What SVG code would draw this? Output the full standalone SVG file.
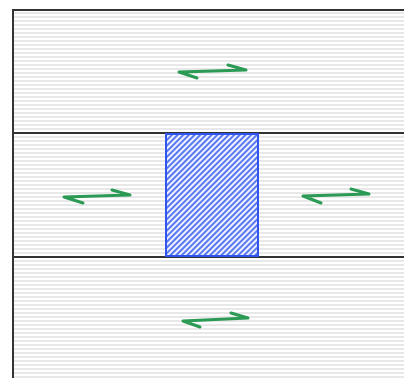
<svg xmlns="http://www.w3.org/2000/svg" width="404" height="378" viewBox="0 0 404 378">
<style>
.arrow{fill:none;stroke:#2a9a55;stroke-width:3;stroke-linecap:round;stroke-linejoin:round}
.border{stroke:#333;stroke-width:2;fill:none}
</style>
<defs>
<pattern id="stripes" width="8" height="4" patternUnits="userSpaceOnUse">
<rect width="8" height="4" fill="#ffffff"/>
<rect y="0" width="8" height="2" fill="#e8e8e8"/>
</pattern>
<pattern id="hatch" width="4" height="4" patternUnits="userSpaceOnUse" patternTransform="rotate(45)">
<rect width="4" height="4" fill="#eef1ff"/>
<rect width="2" height="4" fill="#5a78f0"/>
</pattern>
</defs>
<rect x="13" y="10" width="391" height="368" fill="url(#stripes)"/>
<g id="region-top"><rect x="13" y="10" width="391" height="123" fill="none"/></g>
<g id="region-middle"><rect x="13" y="133" width="391" height="124" fill="none"/></g>
<g id="region-bottom"><rect x="13" y="257" width="391" height="121" fill="none"/></g>
<g id="frame">
<path class="border" d="M13 378 V10 H404"/>
<line class="border" x1="13" y1="133" x2="404" y2="133"/>
<line class="border" x1="13" y1="257" x2="404" y2="257"/>
</g>
<g id="block">
<rect x="166" y="134" width="92" height="122" fill="url(#hatch)" stroke="#2f55ee" stroke-width="2"/>
</g>
<g id="connectors">
<path class="arrow" d="M197 78 L179 72 L246 70 L228 65"/>
<path class="arrow" d="M83 203 L64 197 L130 195 L112 190"/>
<path class="arrow" d="M321 203 L303 196 L369 194 L351 189"/>
<path class="arrow" d="M200 327 L183 321 L248 318 L231 313"/>
</g>
</svg>
